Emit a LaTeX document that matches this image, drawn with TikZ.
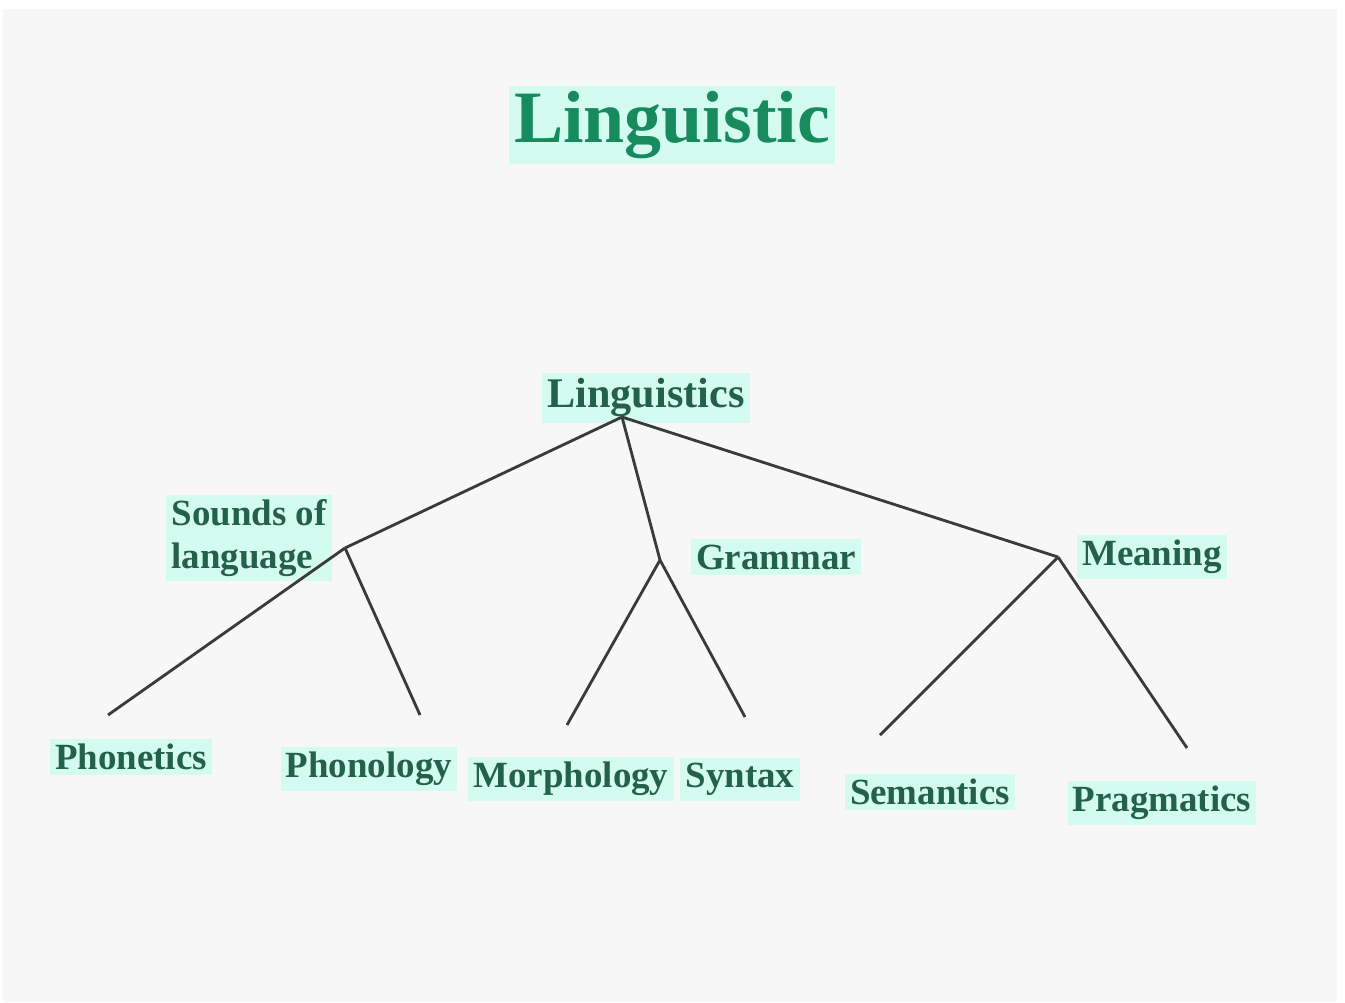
\documentclass[tikz,border=0pt]{standalone}
\usepackage{fontspec}
\setmainfont{Liberation Serif}
\definecolor{panelgray}{HTML}{F7F7F7}
\definecolor{hilite}{HTML}{D4FBEF}
\definecolor{lbltext}{HTML}{23614B}
\definecolor{titlegreen}{HTML}{178A5E}
\definecolor{branch}{HTML}{3A3A3A}
\begin{document}
\begin{tikzpicture}[x=0.01cm, y=-0.01cm, every node/.style={font=\fontsize{10.5}{12}\selectfont\bfseries}]
  \tikzstyle{lbl}=[fill=hilite,text=lbltext,inner sep=1.5pt,align=left]
  \tikzstyle{branchline}=[draw=branch,line width=0.8pt]
  \useasboundingbox (0,0) rectangle (1345,1002);
  \fill[panelgray] (3,9) rectangle (1337,1002);
  % Title
  \node[lbl,text=titlegreen,font=\fontsize{21}{24}\selectfont\bfseries] (title) at (672,125) {Linguistic};
  % Top level
  \node[lbl,font=\fontsize{12}{14}\selectfont\bfseries] (ling) at (646,398) {Linguistics};
  \node[lbl] (sounds) at (249,538) {Sounds of\\language};
  \node[lbl] (gram) at (776,557) {Grammar};
  \node[lbl] (mean) at (1152,557) {Meaning};
  % Leaves
  \node[lbl] (phonet) at (131,757) {Phonetics};
  \node[lbl] (phonol) at (369,769) {Phonology};
  \node[lbl] (morph) at (571,779) {Morphology};
  \node[lbl] (syn) at (740,779) {Syntax};
  \node[lbl] (sem) at (930,792) {Semantics};
  \node[lbl] (prag) at (1162,803) {Pragmatics};
  % Branch points
  \coordinate (root) at (622,417);
  \coordinate (soundsj) at (345,548);
  \coordinate (gramj) at (660,560);
  \coordinate (meanj) at (1058,557);
  \coordinate (phonetend) at (108,715);
  \coordinate (phonolend) at (420,715);
  \coordinate (morphend) at (567,725);
  \coordinate (synend) at (745,717);
  \coordinate (semend) at (880,735);
  \coordinate (pragend) at (1187,748);
  \draw[branchline] (root) -- (soundsj);
  \draw[branchline] (root) -- (gramj);
  \draw[branchline] (root) -- (meanj);
  \draw[branchline] (soundsj) -- (phonetend);
  \draw[branchline] (soundsj) -- (phonolend);
  \draw[branchline] (gramj) -- (morphend);
  \draw[branchline] (gramj) -- (synend);
  \draw[branchline] (meanj) -- (semend);
  \draw[branchline] (meanj) -- (pragend);
\end{tikzpicture}
\end{document}
